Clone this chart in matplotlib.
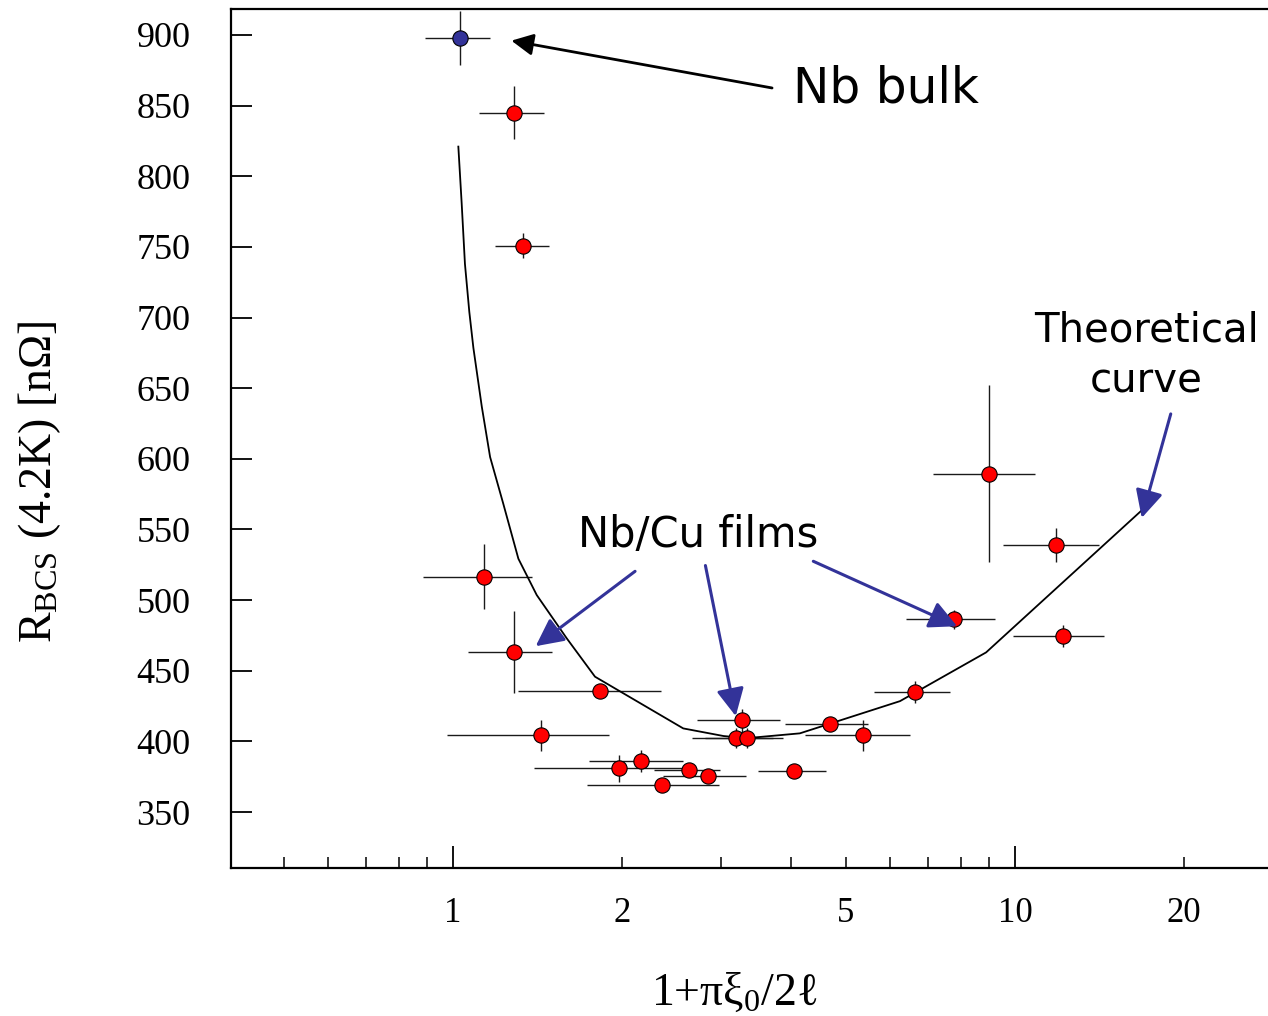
import matplotlib
matplotlib.use('Agg')
import matplotlib.pyplot as plt

plt.rcParams['font.family'] = ['Liberation Serif', 'DejaVu Serif']
plt.rcParams['mathtext.fontset'] = 'custom'
plt.rcParams['mathtext.rm'] = 'Liberation Serif'
plt.rcParams['mathtext.it'] = 'Liberation Serif:italic'

# Nb bulk reference point
bulk_x = [1.027]
bulk_y = [898]
bulk_xerr = [0.136]
bulk_yerr = [19]

# Nb/Cu film points
film_x = [1.282, 1.334, 1.134, 1.284, 1.826, 1.434, 1.977, 2.158, 2.63, 2.847,
          2.354, 4.045, 3.272, 3.184, 3.339, 4.687, 5.363, 6.64, 7.798, 12.16,
          9.0, 11.80]
film_y = [845, 751, 516.5, 463.3, 435.6, 404.2, 381.1, 386.1, 380, 375.5,
          369.1, 378.8, 414.9, 402.6, 402.6, 412, 404.5, 435, 486.3, 474.5,
          589.5, 539.3]
film_xerr = [0.17, 0.148, 0.25, 0.219, 0.521, 0.459, 0.583, 0.411, 0.35, 0.48,
             0.625, 0.56, 0.551, 0.525, 0.53, 0.79, 1.134, 1.03, 1.4, 2.23,
             1.845, 2.3]
film_yerr = [18.7, 8.5, 23, 29, 4, 11, 9.5, 8, 3, 4,
             3, 3, 8, 7, 7, 4, 11, 8, 7, 8,
             62.5, 12]

# theoretical curve
curve_x = [1.022, 1.036, 1.050, 1.069, 1.087, 1.125, 1.164, 1.229, 1.307,
           1.409, 1.593, 1.789, 2.568, 3.03, 3.33, 4.14, 6.24, 8.88, 16.74]
curve_y = [821, 781, 738, 704, 678.5, 637, 601.3, 568, 529.3,
           503.6, 473, 445.8, 409.2, 403.8, 402.3, 405.7, 428.5, 463, 563]

yticks = [350, 400, 450, 500, 550, 600, 650, 700, 750, 800, 850, 900]
xticks_major = [1, 10]
xticks_minor = [0.5, 0.6, 0.7, 0.8, 0.9, 2, 3, 4, 5, 6, 7, 8, 9, 20]
xminor_labels = ['', '', '', '', '', '2', '', '', '5', '', '', '', '', '20']

blue = '#333399'

fig = plt.figure(figsize=(12.68, 10.16), dpi=100)
ax = fig.add_axes([231/1268, (1016-868)/1016, (1275-231)/1268, (868-9)/1016])

ax.errorbar(film_x + bulk_x, film_y + bulk_y,
            xerr=film_xerr + bulk_xerr, yerr=film_yerr + bulk_yerr,
            fmt='none', ecolor='#1a1a1a', elinewidth=1.0, capsize=0, zorder=2)
ax.plot(curve_x, curve_y, '-', color='black', lw=1.3, zorder=2.5)
ax.plot(film_x, film_y, 'o', ls='none', mfc='red', mec='black', mew=0.8,
        ms=11, zorder=3)
ax.plot(bulk_x, bulk_y, 'o', ls='none', mfc=blue, mec='black', mew=0.8,
        ms=11, zorder=3)

ax.set_xscale('log')
ax.set_xlim(0.4027, 29.0)
ax.set_ylim(310.4, 918.4)

ax.set_xticks(xticks_major, labels=['1', '10'])
ax.set_xticks(xticks_minor, labels=xminor_labels, minor=True)
ax.set_yticks(yticks)
ax.tick_params(axis='x', which='major', direction='in', length=16, width=1.3,
               pad=21, labelsize=25)
ax.tick_params(axis='x', which='minor', direction='in', length=8, width=1.1,
               pad=21, labelsize=25)
ax.tick_params(axis='y', which='major', direction='in', length=15, width=1.3,
               pad=29, labelsize=26)
ax.tick_params(axis='y', which='minor', left=False)

for s in ['left', 'bottom', 'top']:
    ax.spines[s].set_linewidth(1.6)
ax.spines['right'].set_visible(False)

fig.text(40/1268, 1 - 482/1016, r'R$_{\mathrm{BCS}}$ (4.2K) [nΩ]',
         rotation=90, ha='center', va='center', fontsize=33)
fig.text(734/1268, 1 - 1005/1016, r'1+πξ$_{\mathrm{0}}$/2ℓ',
         ha='center', va='baseline', fontsize=33)

# annotations
ax.annotate('', xy=(1.27, 896), xytext=(3.695, 862.5),
            arrowprops=dict(arrowstyle='-|>,head_length=0.6,head_width=0.3',
                            mutation_scale=22, lw=2, color='black',
                            shrinkA=0, shrinkB=0), zorder=4)
ax.text(5.888, 851.9, 'Nb bulk', family='DejaVu Sans', fontsize=35,
        ha='center', va='baseline')

film_arrows = [((2.108, 520.4), (1.403, 467.4)),
               ((2.812, 524.5), (3.184, 417.9)),
               ((4.375, 527.5), (7.885, 481.5)),
               ((18.92, 631.8), (16.8, 558.2))]
for tail, tip in film_arrows:
    ax.annotate('', xy=tip, xytext=tail,
                arrowprops=dict(arrowstyle='-|>,head_length=0.7,head_width=0.35',
                                mutation_scale=24, lw=2.2, color=blue,
                                shrinkA=0, shrinkB=0), zorder=4)

ax.text(2.729, 537.9, 'Nb/Cu films', family='DejaVu Sans', fontsize=30,
        ha='center', va='baseline')
ax.text(17.14, 682.9, 'Theoretical', family='DejaVu Sans', fontsize=29,
        ha='center', va='baseline', clip_on=False)
ax.text(17.14, 647.5, 'curve', family='DejaVu Sans', fontsize=29,
        ha='center', va='baseline')

plt.savefig('out.png', dpi=100)
